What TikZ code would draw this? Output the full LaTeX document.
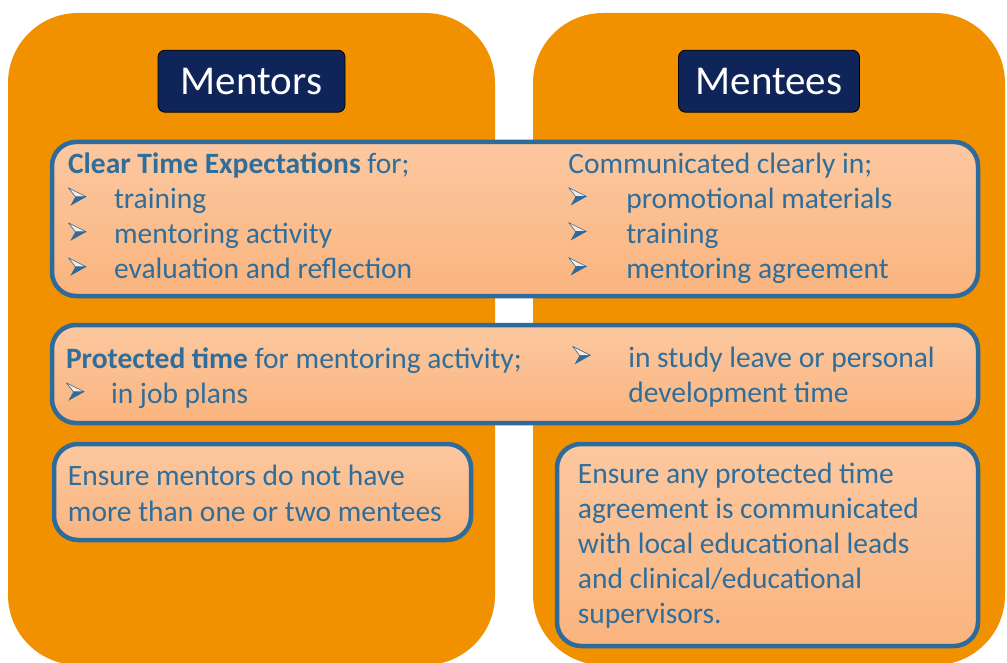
\documentclass[tikz,border=0pt]{standalone}
\usepackage{fontspec}
\setmainfont{Carlito}
\usetikzlibrary{positioning}

\definecolor{panelorange}{HTML}{F29100}
\definecolor{navy}{HTML}{0F2459}
\definecolor{cardblue}{HTML}{2C6B9B}
\definecolor{textblue}{HTML}{2F6E9B}
\definecolor{peachtop}{HTML}{FCC8A0}
\definecolor{peachbottom}{HTML}{FAB47E}
\colorlet{bulletlight}{peachtop!40!white}

% arrowhead bullet: outlined upper half, filled lower half
\newcommand{\arrowbullet}{%
  \begin{pgfpicture}%
    \pgfsetbaseline{-3pt}%
    \pgfsetlinewidth{0.6pt}%
    \pgfsetroundjoin
    \pgfsetstrokecolor{cardblue}%
    \pgfsetfillcolor{bulletlight}%
    \pgfpathmoveto{\pgfpoint{0pt}{18pt}}%
    \pgfpathlineto{\pgfpoint{18pt}{9pt}}%
    \pgfpathlineto{\pgfpoint{7pt}{9pt}}%
    \pgfpathclose
    \pgfusepath{fill,stroke}%
    \pgfsetfillcolor{cardblue}%
    \pgfpathmoveto{\pgfpoint{7pt}{9pt}}%
    \pgfpathlineto{\pgfpoint{18pt}{9pt}}%
    \pgfpathlineto{\pgfpoint{2pt}{0pt}}%
    \pgfpathclose
    \pgfusepath{fill}%
  \end{pgfpicture}}
% bullet followed by its text, text starts #1 after the bullet
\newcommand{\arrowitem}[2]{\makebox[#1][l]{\arrowbullet}#2}

\begin{document}
\begin{tikzpicture}[x=1pt, y=-1pt,
    panel/.style  = {fill=panelorange, rounded corners=70pt, inner sep=0pt,
                     minimum height=652pt},
    header/.style = {fill=navy, draw=black, line width=0.8pt, rounded corners=7pt,
                     text=white, font=\fontsize{41}{41}\selectfont,
                     minimum height=62pt, inner sep=0pt},
    card/.style   = {draw=cardblue, line width=4.5pt, rounded corners=24pt,
                     top color=peachtop, bottom color=peachbottom, inner sep=0pt},
    txt/.style    = {anchor=north west, align=left, inner sep=0pt, text=textblue,
                     font=\fontsize{29.5}{35}\selectfont}
]
\useasboundingbox (0,0) rectangle (1007,663);
\clip (0,0) rectangle (1007,663);

% ========= two columns =========
\node[panel, minimum width=487pt] (leftpanel)  at (251.5,339) {};
\node[panel, minimum width=472pt] (rightpanel) at (769,339)   {};

\node[header, minimum width=187pt, below=37pt of leftpanel.north]  (mentors) {Mentors};
\node[header, minimum width=181pt, below=37pt of rightpanel.north] (mentees) {Mentees};

% ========= cards =========
\node[card, minimum width=926pt, minimum height=154pt] (expect)  at (515,219)   {};
\node[card, minimum width=926pt, minimum height=98pt]  (protect) at (515,374)   {};
\node[card, minimum width=417pt, minimum height=96pt]  (ensureL) at (262.5,492) {};
\node[card, minimum width=421pt, minimum height=202pt] (ensureR) at (767.5,545) {};

% ========= card texts =========
\node[txt] (expectL) at ([xshift=18pt,yshift=-13pt]expect.north west)
    {\textbf{Clear Time Expectations} for;\\
     \arrowitem{46pt}{training}\\
     \arrowitem{46pt}{mentoring activity}\\
     \arrowitem{46pt}{evaluation and reflection}};
\node[txt] (expectR) at ([xshift=53pt,yshift=-13pt]expect.north)
    {Communicated clearly in;\\
     \arrowitem{58pt}{promotional materials}\\
     \arrowitem{58pt}{training}\\
     \arrowitem{58pt}{mentoring agreement}};

\node[txt] (protectL) at ([xshift=16pt,yshift=-25pt]protect.north west)
    {\textbf{Protected time} for mentoring activity;\\
     \arrowitem{45pt}{in job plans}};
\node[txt] (protectR) at ([xshift=57pt,yshift=-23pt]protect.north)
    {\arrowitem{56pt}{in study leave or personal}\\
     \hspace*{56pt}development time};

\node[txt, font=\fontsize{29.5}{36.5}\selectfont] (ensureLtext)
    at ([xshift=16pt,yshift=-23pt]ensureL.north west)
    {Ensure mentors do not have\\
     more than one or two mentees};
\node[txt] (ensureRtext) at ([xshift=23pt,yshift=-21pt]ensureR.north west)
    {Ensure any protected time\\
     agreement is communicated\\
     with local educational leads\\
     and clinical/educational\\
     supervisors.};

\end{tikzpicture}
\end{document}
